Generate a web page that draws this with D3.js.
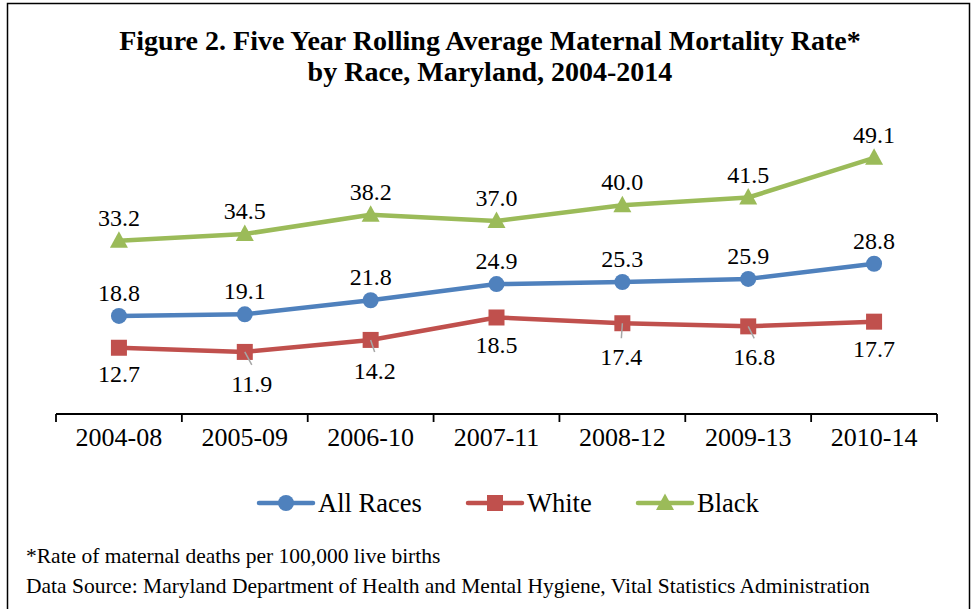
<!DOCTYPE html>
<html>
<head>
<meta charset="utf-8">
<script src="https://cdn.jsdelivr.net/npm/d3@7"></script>
<style>
  html, body { margin: 0; padding: 0; background: #fff; }
  svg { display: block; font-family: "Liberation Serif", "Times New Roman", serif; }
</style>
</head>
<body>
<script>
// periods on the x axis
const periods = ["2004-08", "2005-09", "2006-10", "2007-11", "2008-12", "2009-13", "2010-14"];
// rates per 100,000 live births
const allRaces = [18.8, 19.1, 21.8, 24.9, 25.3, 25.9, 28.8];
const white = [12.7, 11.9, 14.2, 18.5, 17.4, 16.8, 17.7];
const black = [33.2, 34.5, 38.2, 37.0, 40.0, 41.5, 49.1];
const seriesNames = ["All Races", "White", "Black"];

/*------------Size---------------*/
const W = 972, H = 609;
const plot = { l: 56, r: 937, t: 101, b: 414 };
const clr = { all: "#4F81BD", white: "#C0504D", black: "#9BBB59" };

// white labels sit below the markers, some nudged with leader lines (dx, dy)
const whiteLabelOff = [[0, 34], [7, 40], [4, 39], [0, 36], [-1, 42], [6, 39], [0, 35]];

const svg = d3.select("body").append("svg")
  .attr("width", W).attr("height", H);

// frame
svg.append("rect")
  .attr("x", 7.5).attr("y", 3.5)
  .attr("width", 962).attr("height", 610)
  .attr("fill", "#fff").attr("stroke", "#000").attr("stroke-width", 1.5);

// title
const title = svg.append("text")
  .attr("text-anchor", "middle")
  .attr("font-weight", "bold")
  .attr("font-size", 28);
title.append("tspan").attr("x", 490).attr("y", 50)
  .text("Figure 2. Five Year Rolling Average Maternal Mortality Rate*");
title.append("tspan").attr("x", 490).attr("y", 81)
  .text("by Race, Maryland, 2004-2014");

/*------------Scales---------------*/
const x = d3.scaleBand().domain(periods).range([plot.l, plot.r]).padding(0);
const y = d3.scaleLinear().domain([0, 60]).range([plot.b, plot.t]);
const cx = (p) => x(p) + x.bandwidth() / 2;

// x axis: labels from d3.axisBottom, boundary ticks drawn between bands
const axis = svg.append("g")
  .attr("transform", `translate(0,${plot.b})`)
  .call(d3.axisBottom(x).tickSize(0).tickPadding(14));
axis.select(".domain").remove();
axis.selectAll("text")
  .attr("font-family", "Liberation Serif, Times New Roman, serif")
  .attr("font-size", 26)
  .attr("fill", "#000");

const bounds = periods.map((p) => x(p)).concat([plot.r]);
axis.selectAll(".bound")
  .data(bounds)
  .enter().append("line")
  .attr("class", "bound")
  .attr("x1", (d) => d).attr("x2", (d) => d)
  .attr("y1", 0).attr("y2", 8)
  .attr("stroke", "#000").attr("stroke-width", 1.8);
axis.append("line")
  .attr("x1", plot.l).attr("x2", plot.r)
  .attr("y1", 0).attr("y2", 0)
  .attr("stroke", "#000").attr("stroke-width", 1.8);

/*------------Series---------------*/
const series = [
  { name: seriesNames[0], vals: allRaces, color: clr.all, marker: "circle" },
  { name: seriesNames[1], vals: white, color: clr.white, marker: "square" },
  { name: seriesNames[2], vals: black, color: clr.black, marker: "triangle" }
];

const line = d3.line()
  .x((d, i) => cx(periods[i]))
  .y((d) => y(d));

const drawMarker = (g, type, color) => {
  if (type === "circle") {
    g.append("circle").attr("r", 8).attr("fill", color);
  } else if (type === "square") {
    g.append("rect").attr("x", -8).attr("y", -8)
      .attr("width", 16).attr("height", 16).attr("fill", color);
  } else {
    g.append("path").attr("d", "M0,-9.5L9,7L-9,7Z").attr("fill", color);
  }
};

series.forEach((s) => {
  svg.append("path")
    .datum(s.vals)
    .attr("d", line)
    .attr("fill", "none")
    .attr("stroke", s.color)
    .attr("stroke-width", 4.5)
    .attr("stroke-linejoin", "round")
    .attr("stroke-linecap", "round");

  svg.selectAll(null)
    .data(s.vals)
    .enter().append("g")
    .attr("transform", (d, i) => `translate(${cx(periods[i])},${y(d)})`)
    .each(function () { drawMarker(d3.select(this), s.marker, s.color); });
});

// leader lines for nudged white labels
svg.selectAll(".leader")
  .data(white.map((v, i) => ({ v, i })).filter((d) => whiteLabelOff[d.i][1] >= 38))
  .enter().append("line")
  .attr("class", "leader")
  .attr("x1", (d) => cx(periods[d.i]))
  .attr("y1", (d) => y(d.v))
  .attr("x2", (d) => cx(periods[d.i]) + whiteLabelOff[d.i][0])
  .attr("y2", (d) => y(d.v) + whiteLabelOff[d.i][1] - 27)
  .attr("stroke", "#A6A6A6").attr("stroke-width", 1.5);

/*------------Data labels---------------*/
const labelG = svg.append("g")
  .attr("font-size", 24)
  .attr("text-anchor", "middle")
  .attr("fill", "#000");

[allRaces, black].forEach((vals) => {
  labelG.selectAll(null)
    .data(vals)
    .enter().append("text")
    .attr("x", (d, i) => cx(periods[i]))
    .attr("y", (d) => y(d) - 15)
    .text((d) => d.toFixed(1));
});

labelG.selectAll(null)
  .data(white)
  .enter().append("text")
  .attr("x", (d, i) => cx(periods[i]) + whiteLabelOff[i][0])
  .attr("y", (d, i) => y(d) + whiteLabelOff[i][1])
  .text((d) => d.toFixed(1));

/*------------Legend---------------*/
const legendX = [286, 495, 665];
const legend = svg.append("g").attr("transform", "translate(0,503)");
series.forEach((s, i) => {
  const g = legend.append("g").attr("transform", `translate(${legendX[i]},0)`);
  g.append("line")
    .attr("x1", -27).attr("x2", 27)
    .attr("stroke", s.color).attr("stroke-width", 4.5)
    .attr("stroke-linecap", "round");
  drawMarker(g, s.marker, s.color);
  g.append("text")
    .attr("x", 32).attr("y", 9)
    .attr("font-size", 26.5)
    .text(s.name);
});

/*------------Footnotes---------------*/
const foot = svg.append("g").attr("font-size", 21.5);
foot.append("text").attr("x", 26).attr("y", 563)
  .text("*Rate of maternal deaths per 100,000 live births");
foot.append("text").attr("x", 26).attr("y", 593)
  .text("Data Source: Maryland Department of Health and Mental Hygiene, Vital Statistics Administration");
</script>
</body>
</html>
